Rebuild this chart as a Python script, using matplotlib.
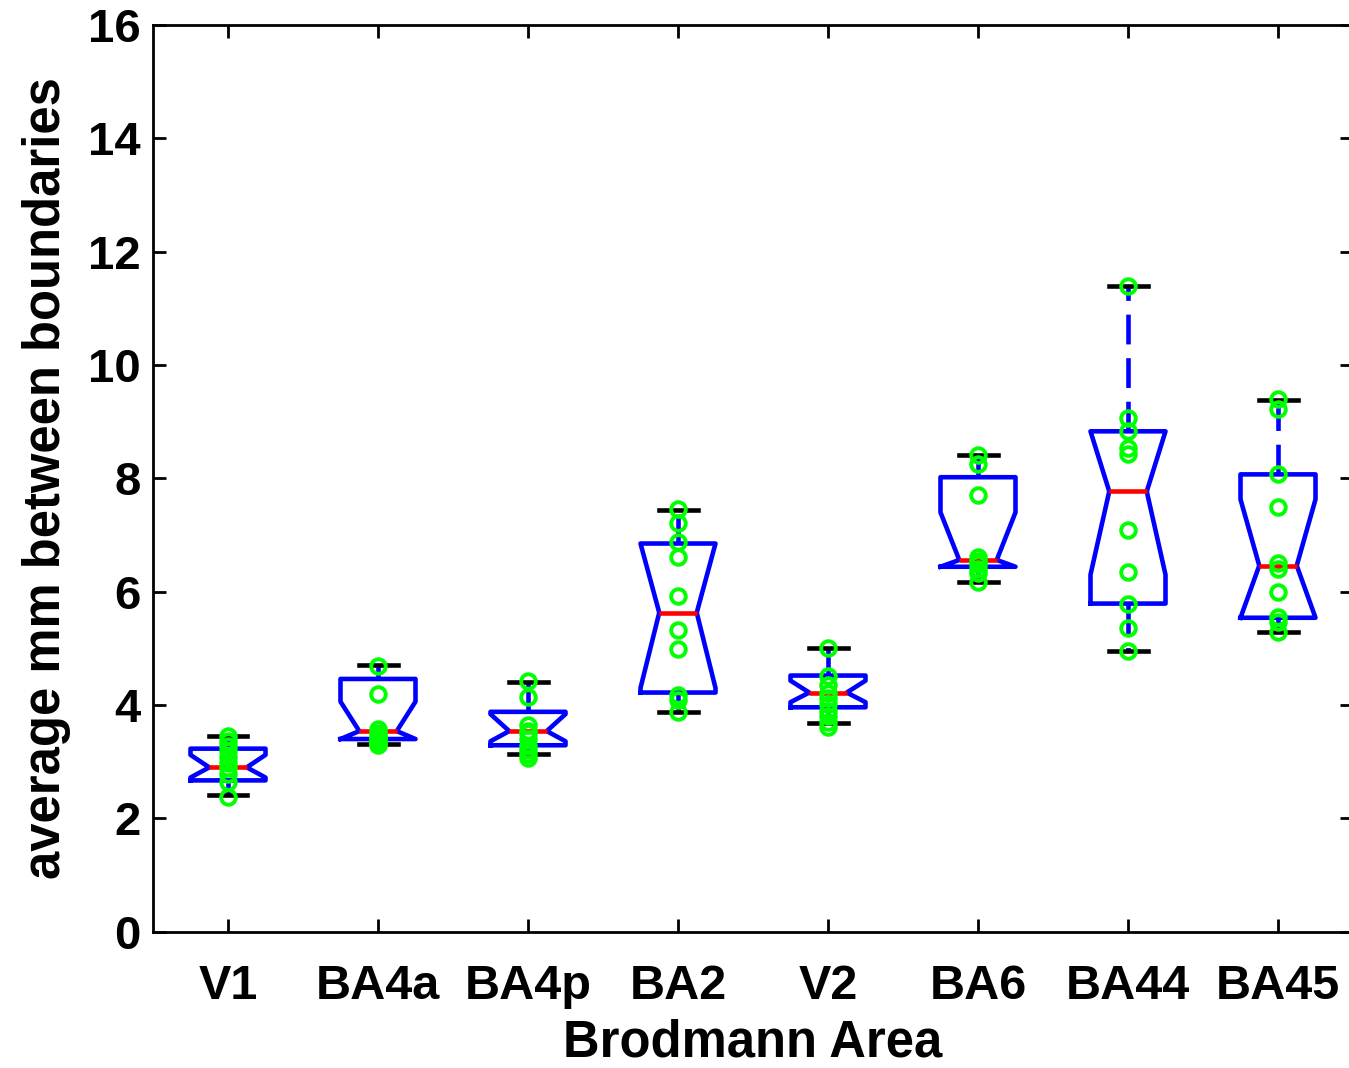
import numpy as np
import matplotlib
matplotlib.use("Agg")
import matplotlib.pyplot as plt

# ---- data ----
areas = ["V1", "BA4a", "BA4p", "BA2", "V2", "BA6", "BA44", "BA45"]

q1_vals    = [2.67, 3.40, 3.29, 4.22, 3.96, 6.44, 5.79, 5.54]
med_vals   = [2.90, 3.54, 3.54, 5.63, 4.22, 6.56, 7.77, 6.46]
q3_vals    = [3.23, 4.46, 3.88, 6.85, 4.52, 8.02, 8.83, 8.07]
notch_lo   = [2.72, 3.40, 3.36, 4.30, 4.05, 6.44, 6.30, 5.54]
notch_hi   = [3.12, 4.06, 3.84, 6.85, 4.43, 7.40, 8.83, 7.63]
whisk_lo   = [2.42, 3.32, 3.13, 3.88, 3.69, 6.17, 4.96, 5.29]
whisk_hi   = [3.45, 4.70, 4.41, 7.45, 5.01, 8.42, 11.39, 9.39]

pts_V1   = [3.46, 3.36, 3.27, 3.18, 3.08, 2.98, 2.88, 2.78, 2.65, 2.37]
pts_BA4a = [4.68, 4.20, 3.57, 3.50, 3.45, 3.42, 3.38, 3.35, 3.31, 3.29]
pts_BA4p = [4.43, 4.14, 3.64, 3.55, 3.50, 3.40, 3.28, 3.20, 3.13, 3.07]
pts_BA2  = [7.46, 7.22, 6.87, 6.61, 5.92, 5.33, 4.99, 4.18, 4.08, 3.88]
pts_V2   = [5.00, 4.52, 4.35, 4.22, 4.12, 4.02, 3.90, 3.80, 3.70, 3.62]
pts_BA6  = [8.42, 8.25, 7.71, 6.62, 6.55, 6.49, 6.40, 6.33, 6.17]
pts_BA44 = [11.39, 9.07, 8.83, 8.54, 8.43, 7.08, 6.34, 5.79, 5.36, 4.96]
pts_BA45 = [9.40, 9.22, 8.07, 7.50, 6.50, 6.40, 6.00, 5.55, 5.46, 5.28]
points = [pts_V1, pts_BA4a, pts_BA4p, pts_BA2, pts_V2, pts_BA6, pts_BA44, pts_BA45]

y_ticks = [0, 2, 4, 6, 8, 10, 12, 14, 16]

# ---- figure ----
plt.rcParams['font.family'] = ['Liberation Sans', 'DejaVu Sans']
plt.rcParams['font.weight'] = 'bold'

W, H = 1349, 1068
fig = plt.figure(figsize=(W / 100, H / 100), dpi=100)
left = 153 / W
right = 1353 / W
bottom = (H - 931.7) / H
top = (H - 25) / H
ax = fig.add_axes([left, bottom, right - left, top - bottom])

stats = []
for i, name in enumerate(areas):
    stats.append(dict(label=name, med=med_vals[i], q1=q1_vals[i], q3=q3_vals[i],
                      whislo=whisk_lo[i], whishi=whisk_hi[i],
                      cilo=notch_lo[i], cihi=notch_hi[i], fliers=[]))

positions = np.arange(1, len(areas) + 1)
lw = 3.3
ax.bxp(stats, positions=positions, widths=0.5, capwidths=0.26, shownotches=True,
       showfliers=False,
       boxprops=dict(color='#0000FF', linewidth=lw),
       whiskerprops=dict(color='#0000FF', linewidth=lw, linestyle=(0, (6.5, 3.0))),
       capprops=dict(color='black', linewidth=lw),
       medianprops=dict(color='#FF0000', linewidth=lw))

for pos, vals in zip(positions, points):
    ax.plot([pos] * len(vals), vals, linestyle='none', marker='o', markersize=10.5,
            markerfacecolor='none', markeredgecolor='#00FF00', markeredgewidth=2.8,
            zorder=5)

ax.set_xlim(0.5, 8.5)
ax.set_ylim(0, 16)
ax.set_yticks(y_ticks)
ax.set_yticklabels([str(t) for t in y_ticks])
ax.set_xticks(positions)
ax.set_xticklabels(areas)

for sp in ax.spines.values():
    sp.set_linewidth(2.0)
ax.tick_params(direction='in', length=9.5, width=2.0, top=True, right=True)
ax.tick_params(axis='y', pad=9, labelsize=34)
ax.tick_params(axis='x', pad=23, labelsize=35)

ax.set_xlabel('Brodmann Area', fontsize=36.5, fontweight='bold', labelpad=7)
ax.set_ylabel('average mm between boundaries', fontsize=36.5, fontweight='bold',
              labelpad=12)

fig.savefig('out.png', dpi=100)
